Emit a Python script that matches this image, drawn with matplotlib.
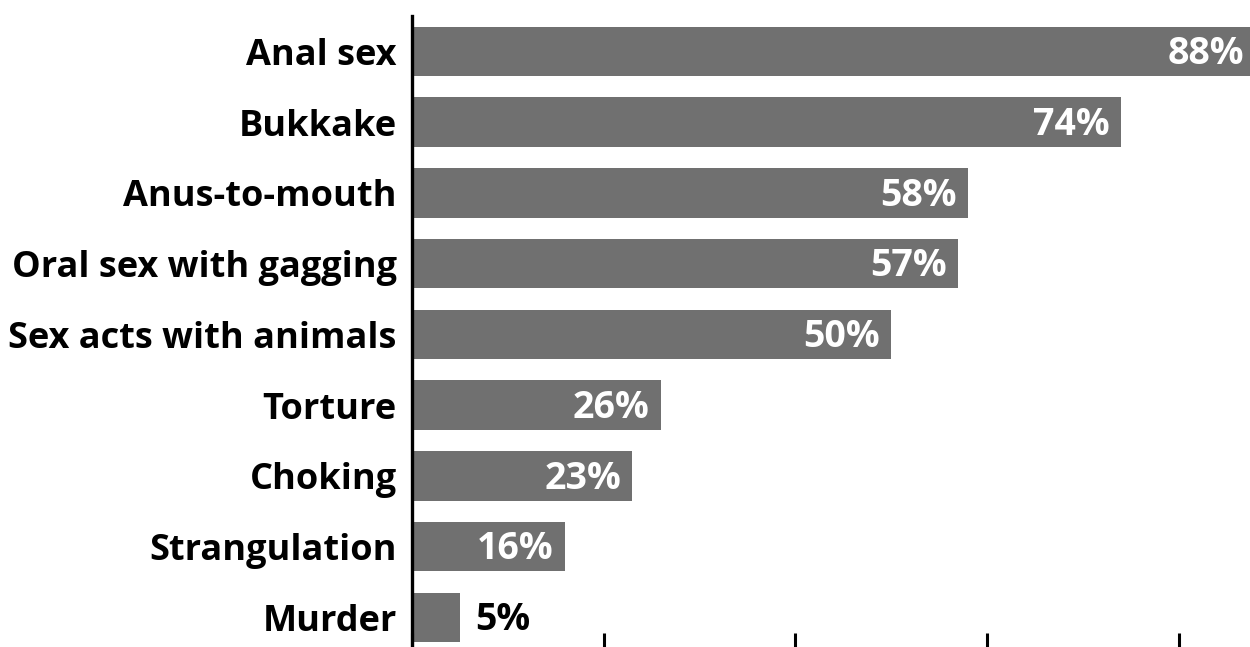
import matplotlib.pyplot as plt

categories = ["Anal sex", "Bukkake", "Anus-to-mouth", "Oral sex with gagging",
              "Sex acts with animals", "Torture", "Choking", "Strangulation", "Murder"]
values = [88, 74, 58, 57, 50, 26, 23, 16, 5]
xticks = [0, 20, 40, 60, 80]

plt.rcParams['font.family'] = ['Open Sans', 'DejaVu Sans']

fig = plt.figure(figsize=(12.5, 6.47), dpi=100)
ax = fig.add_axes([412 / 1250, 0, 838 / 1250, 631 / 647])

pos = list(range(len(categories)))
ax.barh(pos, values, height=0.7, color='#707070')

ax.set_xlim(0, 87.45)
ax.set_ylim(8.42, -0.5)

ax.set_yticks(pos)
ax.set_yticklabels(categories, fontsize=26, fontweight='bold')
ax.tick_params(axis='y', length=0, pad=11)
ax.set_xticks(xticks)
ax.set_xticklabels([])
ax.tick_params(axis='x', direction='in', length=10, width=2.2)

for s in ['top', 'right', 'bottom']:
    ax.spines[s].set_visible(False)
ax.spines['left'].set_linewidth(2.4)

for y, v in zip(pos, values):
    if v >= 10:
        ax.text(v - 1.2, y + 0.04, f"{v}%", ha='right', va='center', color='white',
                fontsize=27, fontweight='bold')
    else:
        ax.text(v + 1.6, y + 0.04, f"{v}%", ha='left', va='center', color='black',
                fontsize=27, fontweight='bold')

fig.savefig('out.png', dpi=100)
